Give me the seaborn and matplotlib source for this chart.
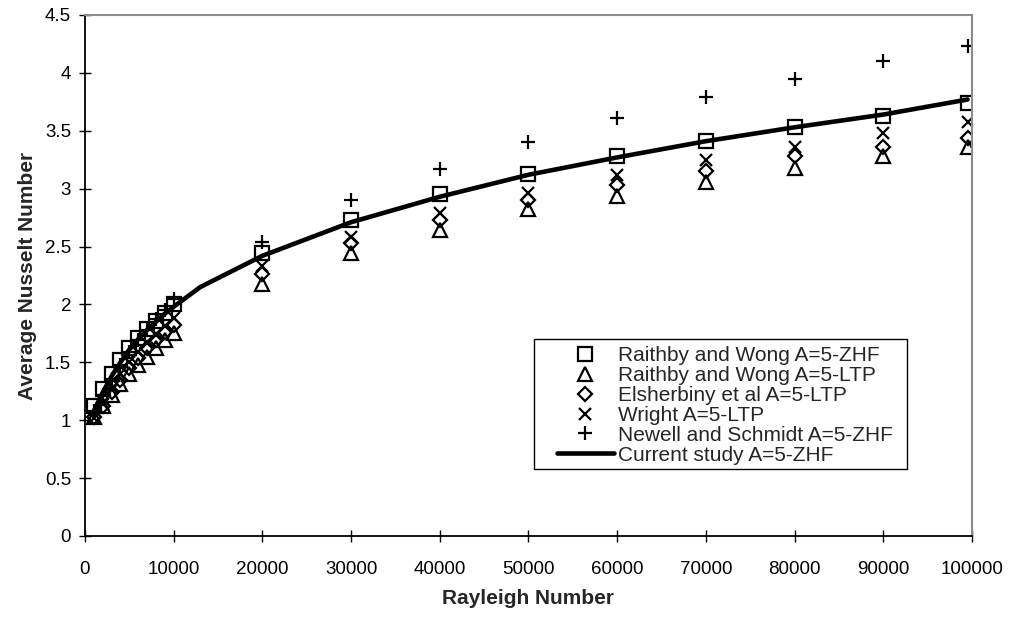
import numpy as np
import pandas as pd
import matplotlib
matplotlib.use("Agg")
import matplotlib.pyplot as plt
import seaborn as sns
from matplotlib.patches import Rectangle

# ---------------- data ----------------
ra_pts = [1000, 2000, 3000, 4000, 5000, 6000, 7000, 8000, 9000, 10000,
          20000, 30000, 40000, 50000, 60000, 70000, 80000, 90000, 99500]

rw_zhf = [1.12, 1.27, 1.40, 1.52, 1.62, 1.71, 1.79, 1.86, 1.93, 2.00,
          2.44, 2.73, 2.95, 3.13, 3.28, 3.41, 3.53, 3.63, 3.74]
rw_ltp = [1.03, 1.12, 1.22, 1.31, 1.40, 1.48, 1.55, 1.62, 1.69, 1.75,
          2.18, 2.44, 2.64, 2.82, 2.94, 3.06, 3.18, 3.28, 3.36]
elsherbiny = [1.03, 1.12, 1.24, 1.35, 1.45, 1.54, 1.62, 1.69, 1.76, 1.82,
              2.26, 2.53, 2.73, 2.90, 3.03, 3.15, 3.28, 3.36, 3.44]
wright = [1.02, 1.14, 1.28, 1.40, 1.50, 1.59, 1.67, 1.74, 1.81, 1.88,
          2.33, 2.58, 2.79, 2.96, 3.12, 3.25, 3.36, 3.48, 3.58]
newell = [1.08, 1.22, 1.36, 1.48, 1.59, 1.69, 1.78, 1.87, 1.95, 2.05,
          2.54, 2.90, 3.17, 3.40, 3.61, 3.79, 3.95, 4.10, 4.23]

ra_line = [1000, 2000, 3000, 4000, 5000, 6000, 7000, 8000, 9000, 10000,
           13000, 20000, 30000, 40000, 50000, 60000, 70000, 80000, 90000, 99500]
current = [1.08, 1.24, 1.38, 1.50, 1.61, 1.70, 1.78, 1.85, 1.92, 1.98,
           2.15, 2.42, 2.71, 2.93, 3.12, 3.27, 3.41, 3.53, 3.64, 3.77]

labels = ["Raithby and Wong A=5-ZHF", "Raithby and Wong A=5-LTP",
          "Elsherbiny et al A=5-LTP", "Wright A=5-LTP",
          "Newell and Schmidt A=5-ZHF", "Current study A=5-ZHF"]

x_ticks = [0, 10000, 20000, 30000, 40000, 50000, 60000, 70000, 80000, 90000, 100000]
y_ticks = [0, 0.5, 1, 1.5, 2, 2.5, 3, 3.5, 4, 4.5]

# ---------------- style ----------------
sns.set_theme(style="white")
plt.rcParams['font.family'] = ['Liberation Sans', 'DejaVu Sans']

fig = plt.figure(figsize=(10.13, 6.22), dpi=100)
ax = fig.add_axes([0.0839, 0.1383, 0.8756, 0.8376])

marker_specs = [
    (rw_zhf, 's', 9.5, True),
    (rw_ltp, '^', 10.0, True),
    (elsherbiny, 'D', 7.0, True),
    (wright, 'x', 9.0, False),
    (newell, '+', 10.0, False),
]

for (vals, mk, ms, filled), lab in zip(marker_specs, labels[:5]):
    df = pd.DataFrame({"Ra": ra_pts, "Nu": vals})
    kw = dict(marker=mk, linestyle='', markersize=ms, markeredgewidth=1.6,
              markeredgecolor='black', color='black', label=lab)
    if filled:
        kw['markerfacecolor'] = 'none'
    sns.lineplot(data=df, x="Ra", y="Nu", ax=ax, **kw)

df_line = pd.DataFrame({"Ra": ra_line, "Nu": current})
sns.lineplot(data=df_line, x="Ra", y="Nu", ax=ax, color='black', linewidth=3.3,
             label=labels[5], zorder=5)

ax.set_xlim(0, 100000)
ax.set_ylim(0, 4.5)
ax.set_xticks(x_ticks)
ax.set_xticklabels([str(t) for t in x_ticks])
ax.set_yticks(y_ticks)
ax.set_yticklabels(["%g" % t for t in y_ticks])

ax.tick_params(axis='both', direction='inout', length=8, width=1.0,
               colors='black', labelsize=13.5)
ax.tick_params(axis='x', pad=14)
ax.tick_params(axis='y', pad=6)
ax.xaxis.set_ticks_position('bottom')
ax.yaxis.set_ticks_position('left')

for side in ['left', 'bottom']:
    ax.spines[side].set_color('black')
    ax.spines[side].set_linewidth(1.3)
for side in ['top', 'right']:
    ax.spines[side].set_color('#8c8c8c')
    ax.spines[side].set_linewidth(1.5)

ax.set_xlabel("Rayleigh Number", fontsize=15, fontweight='bold', labelpad=8)
ax.set_ylabel("Average Nusselt Number", fontsize=15, fontweight='bold', labelpad=6)

handles, labs = ax.get_legend_handles_labels()
leg = ax.legend(handles, labs, loc='upper left', bbox_to_anchor=(0.532, 0.364),
                frameon=False, fontsize=15, borderpad=0, handlelength=2.74,
                handletextpad=0.2, labelspacing=0.04, borderaxespad=0)
ax.add_patch(Rectangle((0.506, 0.129), 0.421, 0.249, transform=ax.transAxes,
                       fill=False, edgecolor='black', linewidth=1.0, zorder=6))

fig.savefig("out.png", dpi=100)
